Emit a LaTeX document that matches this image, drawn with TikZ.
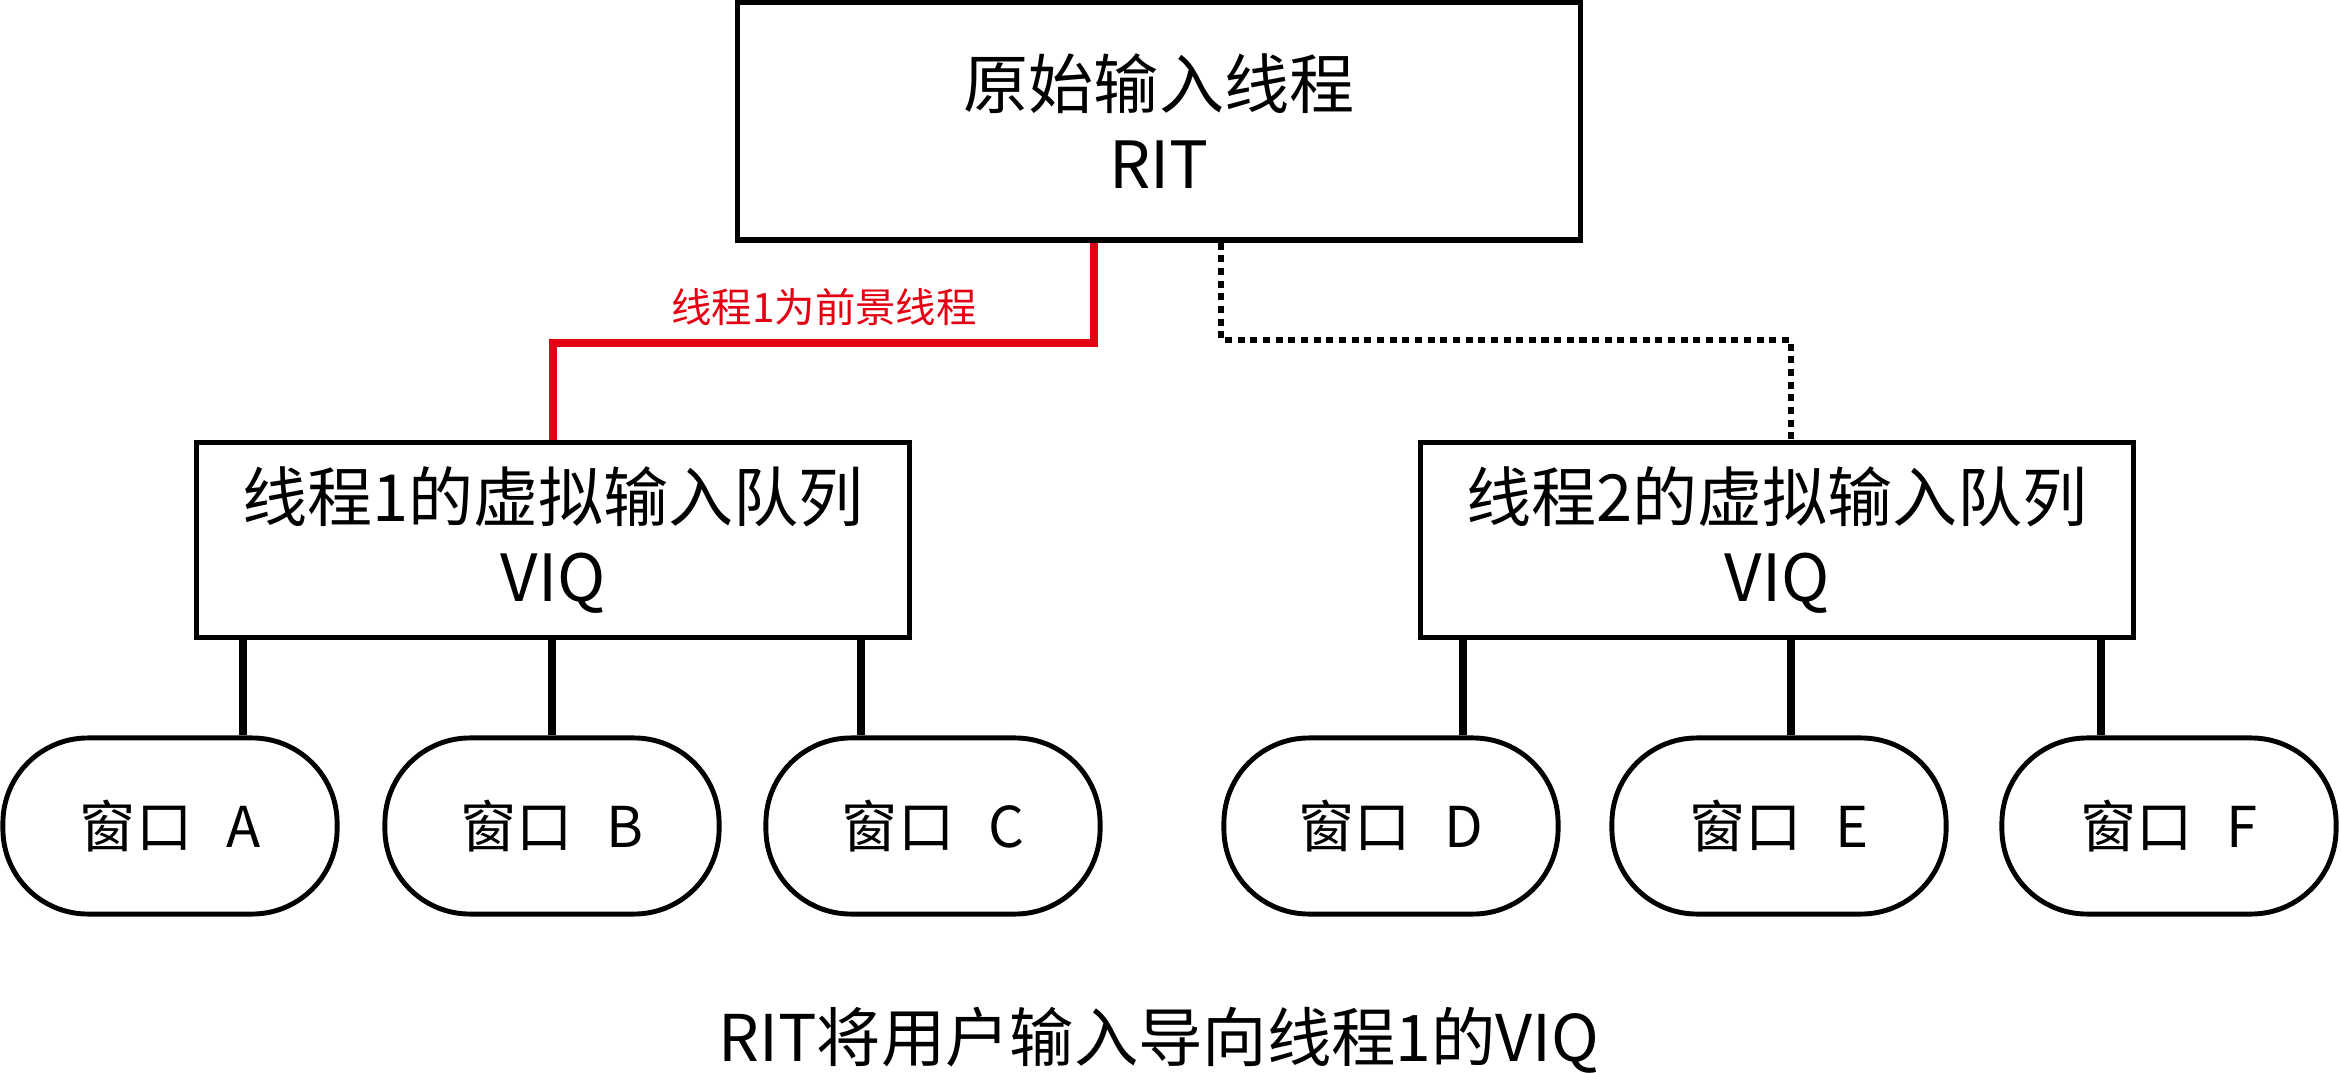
\documentclass[tikz,border=0pt]{standalone}
\usepackage{fontspec}
\setmainfont{Noto Sans CJK SC}
\usepackage{tikz}
\definecolor{fgred}{RGB}{228,0,18}
\newcommand{\win}[1]{窗口\hspace{0.6em}#1}

\begin{document}
\begin{tikzpicture}[x=0.01cm,y=-0.01cm,
    box/.style={draw,line width=1.5pt,align=center,font=\fontsize{18.5}{22.7}\selectfont},
    win/.style={draw,line width=1.4pt,rounded corners=0.85cm,minimum width=3.34cm,minimum height=1.76cm,font=\fontsize{16}{19}\selectfont},
    link/.style={line width=2.3pt},
    fg/.style={line width=2.2pt,fgred},
    bg/.style={line width=1.5pt,dash pattern=on 2pt off 1.6pt}]
    \useasboundingbox (0,0) rectangle (2341,1073);

    % Boxes
    \node[box,minimum width=8.42cm,minimum height=2.38cm] (rit) at (1159,121) {原始输入线程\\RIT};
    \node[box,minimum width=7.12cm,minimum height=1.95cm] (viq1) at (553,540) {线程1的虚拟输入队列\\VIQ};
    \node[box,minimum width=7.12cm,minimum height=1.95cm] (viq2) at (1777,540) {线程2的虚拟输入队列\\VIQ};

    % Windows
    \node[win] (wa) at (170,826) {\win{A}};
    \node[win] (wb) at (552,826) {\win{B}};
    \node[win] (wc) at (933,826) {\win{C}};
    \node[win] (wd) at (1391,826) {\win{D}};
    \node[win] (we) at (1779,826) {\win{E}};
    \node[win] (wf) at (2169,826) {\win{F}};

    % Queue to windows
    \foreach \x/\w in {243/wa,552/wb,861/wc}
        \draw[link] (\x,0 |- viq1.south) -- (\x,0 |- \w.north);
    \foreach \x/\w in {1463/wd,1791/we,2101/wf}
        \draw[link] (\x,0 |- viq2.south) -- (\x,0 |- \w.north);

    % RIT to queues
    \draw[fg] (1094,0 |- rit.south) -- (1094,343) -| (viq1.north);
    \draw[bg] (1221,0 |- rit.south) -- (1221,340) -| (1791,0 |- viq2.north);
    \node[fgred,font=\fontsize{11.5}{14}\selectfont] (fglab) at (824,307) {线程1为前景线程};

    % Caption
    \node[font=\fontsize{18.3}{22}\selectfont] (cap) at (1159,1040) {RIT将用户输入导向线程1的VIQ};
\end{tikzpicture}
\end{document}
